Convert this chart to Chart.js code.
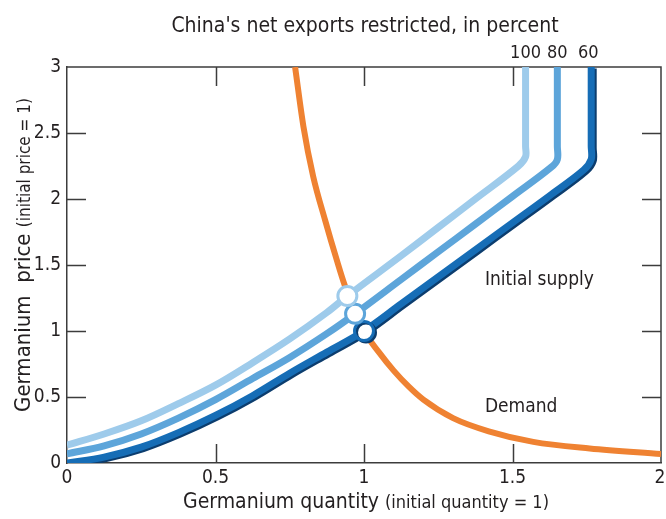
<!DOCTYPE html>
<html>
<head>
<meta charset="utf-8">
<script src="https://cdn.jsdelivr.net/npm/chart.js@4/dist/chart.umd.min.js"></script>
<style>
  html, body { margin: 0; padding: 0; background: #fff; }
  #wrap { width: 666px; height: 519px; position: relative; }
</style>
</head>
<body>
<div id="wrap"><canvas id="chart" width="666" height="519"></canvas></div>
<script>
// Germanium market: supply under export restrictions vs. demand
const FONT = "'Liberation Sans Narrow', 'Arial Narrow', 'DejaVu Sans Condensed', sans-serif";
const INK = '#231f20';
const AXIS = '#3c3c3c';

// Tick values
const quantityTicks = [0, 0.5, 1, 1.5, 2];
const priceTicks = [0, 0.5, 1, 1.5, 2, 2.5, 3];

// Supply, 60 percent of net exports restricted
const supply60Q = [0, 0.125, 0.25, 0.375, 0.5, 0.625, 0.75, 0.875, 1.0, 1.125, 1.25, 1.375, 1.5, 1.625, 1.74, 1.765, 1.765, 1.765];
const supply60P = [0, 0.045, 0.12, 0.23, 0.36, 0.51, 0.68, 0.84, 1.0, 1.205, 1.41, 1.615, 1.82, 2.025, 2.22, 2.3, 2.4, 3];

// Supply, 80 percent restricted
const supply80Q = [0, 0.125, 0.25, 0.375, 0.5, 0.625, 0.75, 0.875, 0.97, 1.125, 1.25, 1.375, 1.5, 1.63, 1.651, 1.651, 1.651];
const supply80P = [0.07, 0.13, 0.22, 0.34, 0.48, 0.64, 0.8, 0.98, 1.13, 1.39, 1.6, 1.81, 2.02, 2.24, 2.3, 2.4, 3];

// Supply, 100 percent restricted
const supply100Q = [0, 0.125, 0.25, 0.375, 0.5, 0.625, 0.75, 0.875, 0.944, 1.125, 1.25, 1.375, 1.52, 1.544, 1.544, 1.544];
const supply100P = [0.136, 0.22, 0.32, 0.45, 0.59, 0.76, 0.94, 1.14, 1.265, 1.57, 1.785, 2.0, 2.25, 2.32, 2.4, 3];

// Demand
const demandQ = [0.768, 0.796, 0.829, 0.869, 0.908, 0.936, 0.97, 1.0, 1.05, 1.1, 1.15, 1.2, 1.3, 1.42, 1.57, 1.76, 2.0];
const demandP = [3.0, 2.55, 2.17, 1.84, 1.54, 1.34, 1.15, 1.0, 0.84, 0.7, 0.58, 0.48, 0.34, 0.24, 0.16, 0.11, 0.068];

// Equilibrium points (100, 80, 60 percent)
const equilibriumQ = [0.944, 0.97, 1.0];
const equilibriumP = [1.265, 1.13, 1.0];

// Restriction labels above the vertical supply segments
const restrictionLabels = ['100', '80', '60'];
const restrictionQ = [1.544, 1.651, 1.755];

const COLORS = { light: '#9ecbeb', mid: '#5da5da', dark: '#166db6', shade: '#0c3d6e', orange: '#ef8232' };

const pts = (xs, ys) => xs.map((x, i) => ({ x, y: ys[i] }));

const lineStyle = (color, width) => ({
  showLine: true, borderColor: color, backgroundColor: color, borderWidth: width,
  pointRadius: 0, pointHoverRadius: 0, fill: false,
  borderJoinStyle: 'round', borderCapStyle: 'butt'
});

const circle = (color, order, i) => ({
  label: 'eq' + restrictionLabels[i], data: [{ x: equilibriumQ[i], y: equilibriumP[i] }], order,
  pointRadius: 9.5, pointBorderWidth: 3, pointBackgroundColor: '#fff', pointBorderColor: color,
  pointHoverRadius: 9.5, showLine: false
});

const datasets = [
  circle(COLORS.light, 0, 0),
  circle(COLORS.mid, 1, 1),
  circle(COLORS.dark, 2, 2),
  { label: 'supply100', data: pts(supply100Q, supply100P), order: 3, ...lineStyle(COLORS.light, 7), tension: 0.35 },
  { label: 'supply80', data: pts(supply80Q, supply80P), order: 4, ...lineStyle(COLORS.mid, 7), tension: 0.35 },
  { label: 'supply60', data: pts(supply60Q, supply60P), order: 5, ...lineStyle(COLORS.dark, 7), tension: 0.35 },
  { label: 'demand', data: pts(demandQ, demandP), order: 6, ...lineStyle(COLORS.orange, 6),
    cubicInterpolationMode: 'monotone' }
];

// Darker edge along the 60 percent supply curve
const SHADED = ['supply60', 'eq60'];
const shadePlugin = {
  id: 'shade',
  beforeDatasetDraw(chart, args) {
    if (SHADED.includes(chart.data.datasets[args.index].label)) {
      const ctx = chart.ctx;
      ctx.save();
      ctx.shadowColor = COLORS.shade;
      ctx.shadowOffsetX = 2;
      ctx.shadowOffsetY = 1.5;
      ctx.shadowBlur = 0;
    }
  },
  afterDatasetDraw(chart, args) {
    if (SHADED.includes(chart.data.datasets[args.index].label)) chart.ctx.restore();
  }
};

// Frame with inward tick marks on all four sides, quantity labels and text
const framePlugin = {
  id: 'frame',
  beforeDatasetsDraw(chart) {
    const { ctx, chartArea: a, scales: { x, y } } = chart;
    const len = 19;
    ctx.save();
    ctx.strokeStyle = AXIS;
    ctx.lineWidth = 1.5;
    ctx.beginPath();
    ctx.moveTo(a.left, a.top); ctx.lineTo(a.right, a.top); ctx.lineTo(a.right, a.bottom);
    quantityTicks.slice(1, -1).forEach(v => {
      const px = Math.round(x.getPixelForValue(v)) + 0.5;
      ctx.moveTo(px, a.bottom); ctx.lineTo(px, a.bottom - len);
      ctx.moveTo(px, a.top); ctx.lineTo(px, a.top + len);
    });
    priceTicks.slice(1, -1).forEach(v => {
      const py = Math.round(y.getPixelForValue(v)) + 0.5;
      ctx.moveTo(a.left, py); ctx.lineTo(a.left + len, py);
      ctx.moveTo(a.right, py); ctx.lineTo(a.right - len, py);
    });
    ctx.stroke();

    // Quantity tick labels
    ctx.fillStyle = INK;
    ctx.font = `19px ${FONT}`;
    ctx.textAlign = 'center';
    ctx.textBaseline = 'middle';
    quantityTicks.forEach(v => {
      const px = Math.min(x.getPixelForValue(v), chart.width - 6);
      ctx.fillText(String(v), px, a.bottom + 15);
    });
    ctx.restore();
  },
  afterDraw(chart) {
    const { ctx, scales: { x, y } } = chart;
    ctx.save();
    ctx.fillStyle = INK;

    // Heading and restriction levels
    ctx.textAlign = 'center';
    ctx.textBaseline = 'alphabetic';
    ctx.font = `21px ${FONT}`;
    ctx.fillText("China's net exports restricted, in percent", 365, 32);
    ctx.font = `18px ${FONT}`;
    restrictionLabels.forEach((t, i) => ctx.fillText(t, x.getPixelForValue(restrictionQ[i]), 58));

    // Curve labels
    ctx.textAlign = 'left';
    ctx.font = `19px ${FONT}`;
    ctx.fillText('Initial supply', x.getPixelForValue(1.407), y.getPixelForValue(1.35));
    ctx.fillText('Demand', x.getPixelForValue(1.407), y.getPixelForValue(0.39));

    // Axis titles with a smaller parenthetical
    const drawTitle = (big, small, bigSize, smallSize, cx, base) => {
      ctx.font = `${bigSize}px ${FONT}`;
      const w1 = ctx.measureText(big).width;
      ctx.font = `${smallSize}px ${FONT}`;
      const w2 = ctx.measureText(small).width;
      const start = cx - (w1 + w2) / 2;
      ctx.textAlign = 'left';
      ctx.font = `${bigSize}px ${FONT}`;
      ctx.fillText(big, start, base);
      ctx.font = `${smallSize}px ${FONT}`;
      ctx.fillText(small, start + w1, base);
    };
    drawTitle('Germanium quantity ', '(initial quantity = 1)', 21, 18, 366, 508);

    ctx.translate(30, 255);
    ctx.rotate(-Math.PI / 2);
    drawTitle('Germanium  price ', '(initial price = 1)', 22, 17, 0, 0);
    ctx.restore();
  }
};

const fmt = v => String(v);

new Chart(document.getElementById('chart'), {
  type: 'scatter',
  data: { datasets },
  options: {
    responsive: false,
    animation: false,
    events: [],
    layout: { autoPadding: false, padding: { left: 0, right: 5, top: 67, bottom: 0 } },
    plugins: { legend: { display: false }, tooltip: { enabled: false } },
    scales: {
      x: {
        type: 'linear', min: 0, max: 2,
        afterBuildTicks: s => { s.ticks = quantityTicks.map(v => ({ value: v })); },
        afterFit: s => { s.height = 56; },
        grid: { display: false, drawTicks: false },
        border: { display: true, color: AXIS, width: 1.5 },
        ticks: { display: false }
      },
      y: {
        type: 'linear', min: 0, max: 3,
        afterBuildTicks: s => { s.ticks = priceTicks.map(v => ({ value: v })); },
        afterFit: s => { s.width = 67; },
        grid: { display: false, drawTicks: false },
        border: { display: true, color: AXIS, width: 1.5 },
        ticks: { color: INK, font: { family: FONT, size: 19 }, padding: 6, callback: fmt }
      }
    }
  },
  plugins: [shadePlugin, framePlugin]
});
</script>
</body>
</html>
